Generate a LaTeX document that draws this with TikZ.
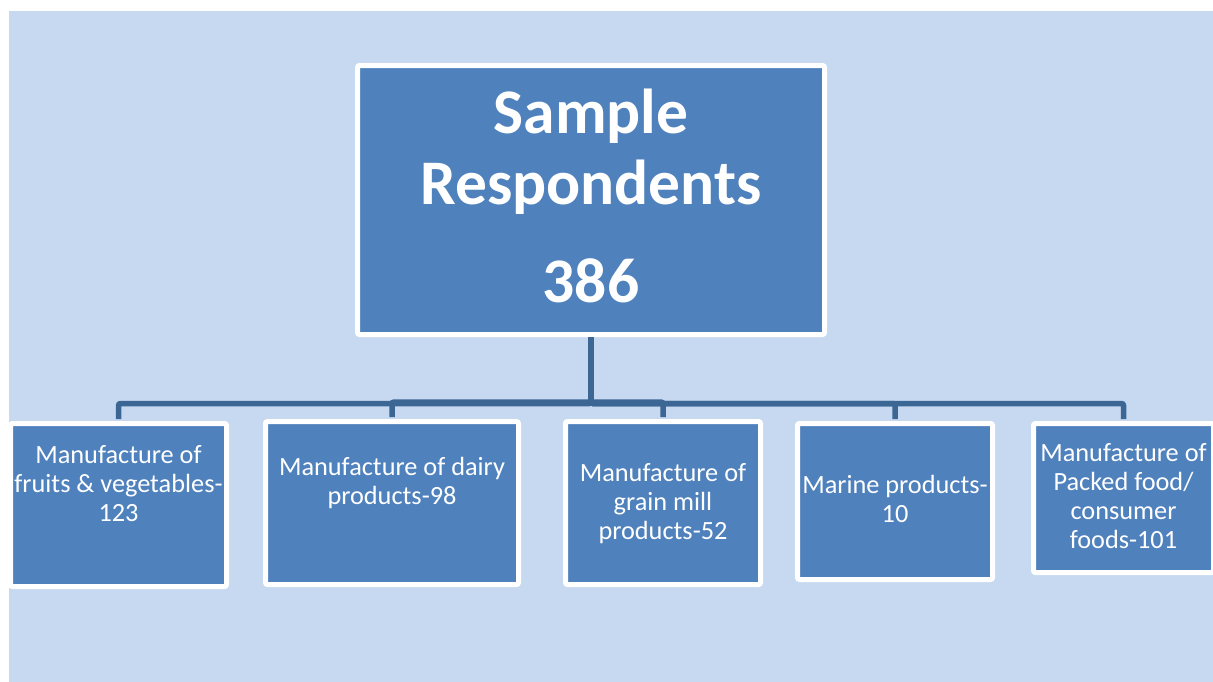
\documentclass[tikz,border=0pt]{standalone}
\usepackage{fontspec}
\setmainfont{Carlito}
\definecolor{pagebg}{HTML}{C6D9F1}
\definecolor{boxfill}{HTML}{4F81BD}
\definecolor{linkcol}{HTML}{3C6694}
\tikzset{
  unitbox/.style={rectangle, fill=boxfill, draw=white, line width=5pt,
    rounded corners=2pt, inner sep=0pt},
  unittext/.style={text=white, align=center, inner sep=0pt,
    font=\fontsize{26.3}{29}\selectfont},
  headtext/.style={text=white, align=center, inner sep=0pt,
    font=\fontsize{63.5}{71}\selectfont\bfseries},
  link/.style={draw=linkcol, line width=5.5pt, rounded corners=2pt}
}
\begin{document}
\begin{tikzpicture}[x=1pt, y=-1pt]
  \useasboundingbox (0,0) rectangle (1213,681);
  % page background
  \fill[pagebg] (9,11) rectangle (1220,690);

  % top box
  \node[unitbox, minimum width=467pt, minimum height=269pt] (top) at (591,200) {};
  \node[headtext] (toptext) at (591,196) {Sample\\Respondents\\[27pt]386};

  % category boxes
  \node[unitbox, minimum width=216pt, minimum height=163pt] (c1) at (118.5,505) {};
  \node[unitbox, minimum width=253pt, minimum height=163pt] (c2) at (392,503) {};
  \node[unitbox, minimum width=195pt, minimum height=163pt] (c3) at (663,503) {};
  \node[unitbox, minimum width=195pt, minimum height=156pt] (c4) at (895,501.5) {};
  \node[unitbox, minimum width=180pt, minimum height=149pt] (c5) at (1123.5,498) {};

  \node[unittext] (t1) at (118.5,484) {Manufacture of\\fruits \& vegetables-\\123};
  \node[unittext] (t2) at (392,482.5) {Manufacture of dairy\\products-98};
  \node[unittext] (t3) at (663,504) {Manufacture of\\grain mill\\products-52};
  \node[unittext] (t4) at (895,498.5) {Marine products-\\10};
  \node[unittext] (t5) at (1123.5,496.5) {Manufacture of\\Packed food/\\consumer\\foods-101};

  % connector bus levels
  \coordinate (busA) at (591,403.5);
  \coordinate (busB) at (591,402);

  \draw[link] (top.south) -- (busA) -| ([yshift=2pt]c1.north);
  \draw[link] (top.south) -- (busA) -| ([yshift=2pt]c4.north);
  \draw[link] (top.south) -- (busA) -| ([yshift=2pt]c5.north);
  \draw[link] (top.south) -- (busB) -| ([yshift=2pt]c2.north);
  \draw[link] (top.south) -- (busB) -| ([yshift=2pt]c3.north);
\end{tikzpicture}
\end{document}
